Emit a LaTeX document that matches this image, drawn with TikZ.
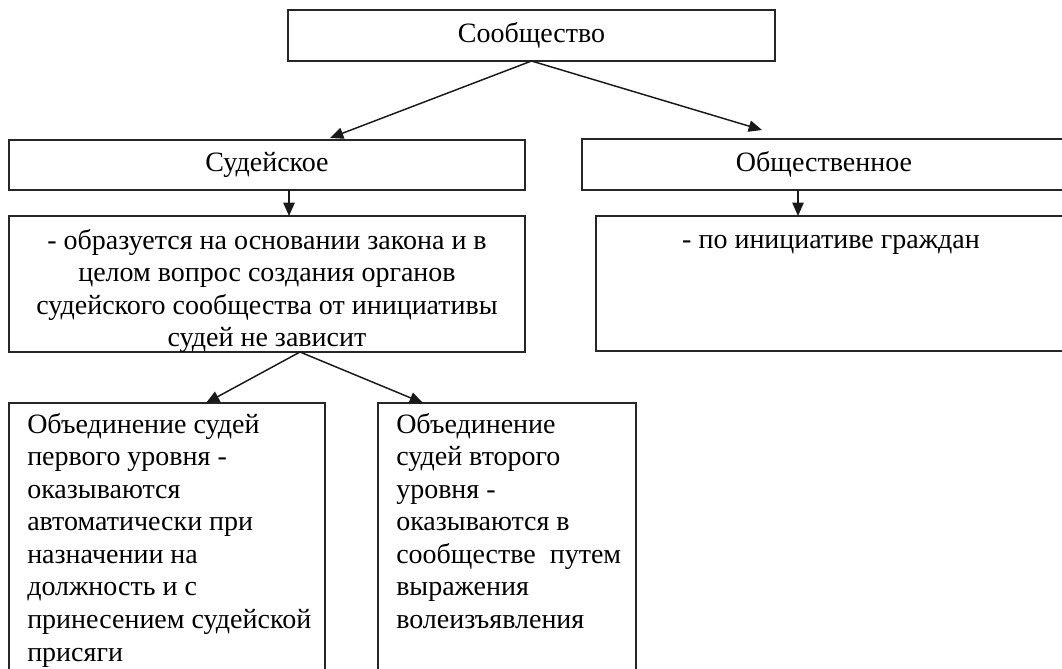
\documentclass[tikz,border=0pt]{standalone}
\usepackage{fontspec}
\setmainfont{Liberation Serif}
\usetikzlibrary{arrows.meta,fit}
\begin{document}
\begin{tikzpicture}[x=0.75pt,y=-0.75pt,
  box/.style={draw=black!85,line width=1.4pt,inner sep=0pt,outer sep=0pt},
  lbl/.style={font=\fontsize{21}{24.4}\selectfont,inner sep=0pt},
  arr/.style={draw=black!90,line width=1.1pt,-{Triangle[length=10pt,width=8.5pt]}}]
\useasboundingbox (0,0) rectangle (1062,668);
\clip (0,0) rectangle (1062,668);
% boxes
\node[box,fit={(288,10) (775,61)}] (top) {};
\node[box,fit={(9,140) (525,190)}] (sud) {};
\node[box,fit={(582,139) (1066,190)}] (obs) {};
\node[box,fit={(9,216) (525,352)}] (midL) {};
\node[box,fit={(596,216) (1066,351)}] (midR) {};
\node[box,fit={(9,403) (325,690)}] (botL) {};
\node[box,fit={(378,403) (636,690)}] (botR) {};
% texts
\node[lbl] (tTop) at (top.center) {Сообщество};
\node[lbl] (tSud) at (sud.center) {Судейское};
\node[lbl] (tObs) at (obs.center) {Общественное};
\node[lbl,align=center,anchor=north] (tMidL) at (267,229) {- образуется на основании закона и в\\целом вопрос создания органов\\судейского сообщества от инициативы\\судей не зависит};
\node[lbl,align=center,anchor=north] (tMidR) at (831,235) {- по инициативе граждан};
\node[lbl,align=left,anchor=north west] (tBotL) at (27,413) {Объединение судей\\первого уровня -\\оказываются\\автоматически при\\назначении на\\должность и с\\принесением судейской\\присяги};
\node[lbl,align=left,anchor=north west] (tBotR) at (396,413) {Объединение\\судей второго\\уровня -\\оказываются в\\сообществе\ \ путем\\выражения\\волеизъявления};
% tip coordinates
\coordinate (pTopL) at (330,138);
\coordinate (pTopR) at (762,130);
\coordinate (sSud) at (289,190);
\coordinate (eSud) at (289,216);
\coordinate (sObs) at (798,190);
\coordinate (eObs) at (798,216);
\coordinate (sMid) at (300,352);
\coordinate (pBotL) at (206,403);
\coordinate (pBotR) at (423,403);
% connectors
\draw[arr] (top.south) -- (pTopL);
\draw[arr] (top.south) -- (pTopR);
\draw[arr] (sSud) -- (eSud);
\draw[arr] (sObs) -- (eObs);
\draw[arr] (sMid) -- (pBotL);
\draw[arr] (sMid) -- (pBotR);
\end{tikzpicture}
\end{document}
